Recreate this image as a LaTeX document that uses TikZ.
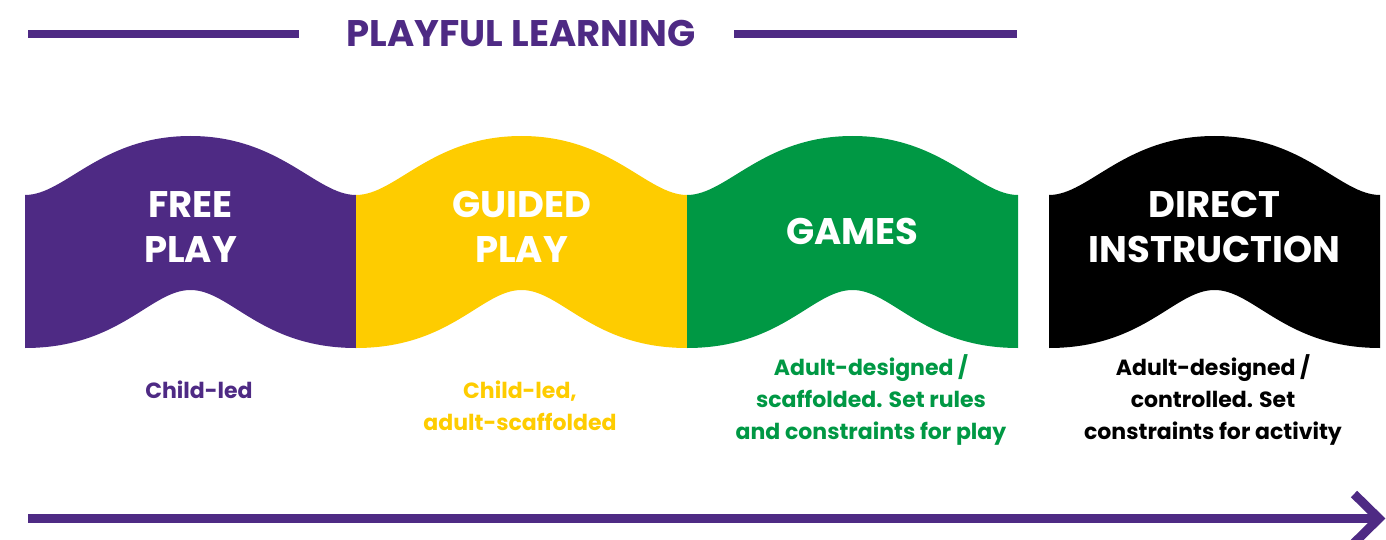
\documentclass[tikz,border=0pt]{standalone}
\usepackage{fontspec}
\setmainfont{Poppins}
\definecolor{plpurple}{RGB}{78,42,132}
\definecolor{plyellow}{RGB}{254,204,0}
\definecolor{plgreen}{RGB}{0,152,68}
% one wavy panel: left edge x, colour
\newcommand{\wavepanel}[2]{%
\fill[#2] (#1,195) .. controls +(40,0) and +(-90,0) .. ++(165.5,-59)
  .. controls +(90,0) and +(-40,0) .. ++(165.5,59) -- ++(0,153)
  .. controls +(-95,0) and +(40,0) .. ++(-165.5,-58)
  .. controls +(-40,0) and +(95,0) .. ++(-165.5,58) -- cycle;}
\tikzset{
  paneltext/.style={text=white, align=center, font=\bfseries\fontsize{18.5}{22.5}\selectfont},
  note/.style={align=center, font=\bfseries\fontsize{11}{16}\selectfont},
  rule/.style={plpurple, line width=4pt},
}
\begin{document}
\begin{tikzpicture}[x=0.5pt, y=-0.5pt]
\useasboundingbox (0,0) rectangle (1386,540);
\node[text=plpurple, font=\bfseries\fontsize{18.5}{22}\selectfont] (title) at (521,33) {PLAYFUL LEARNING};
\coordinate (ruleA) at (28,34); \coordinate (ruleB) at (299,34);
\coordinate (ruleC) at (734,34); \coordinate (ruleD) at (1017,34);
\draw[rule] (ruleA)--(ruleB);
\draw[rule] (ruleC)--(ruleD);
\wavepanel{25}{plpurple}
\wavepanel{356}{plyellow}
\wavepanel{687}{plgreen}
\wavepanel{1049}{black}
\node[paneltext] (free) at (190.5,227) {FREE\\PLAY};
\node[paneltext] (guided) at (521.5,227) {GUIDED\\PLAY};
\node[paneltext] (games) at (852.5,231) {GAMES};
\node[paneltext] (direct) at (1214.5,227) {DIRECT\\INSTRUCTION};
\node[note, text=plpurple] (freenote) at (199,390) {Child-led};
\node[note, text=plyellow] (guidednote) at (520,406) {Child-led,\\adult-scaffolded};
\node[note, text=plgreen] (gamesnote) at (871,400) {Adult-designed /\\scaffolded. Set rules\\and constraints for play};
\node[note, text=black] (directnote) at (1213,400) {Adult-designed /\\controlled. Set\\constraints for activity};
\coordinate (start) at (28,518.5); \coordinate (tip) at (1379,518.5);
\draw[rule, line width=4.5pt] (start)--(tip);
\draw[rule, line width=4.5pt, miter limit=4] (tip) ++(-25,-24.5) -- (tip) -- ++(-25,24.5);
\end{tikzpicture}
\end{document}
